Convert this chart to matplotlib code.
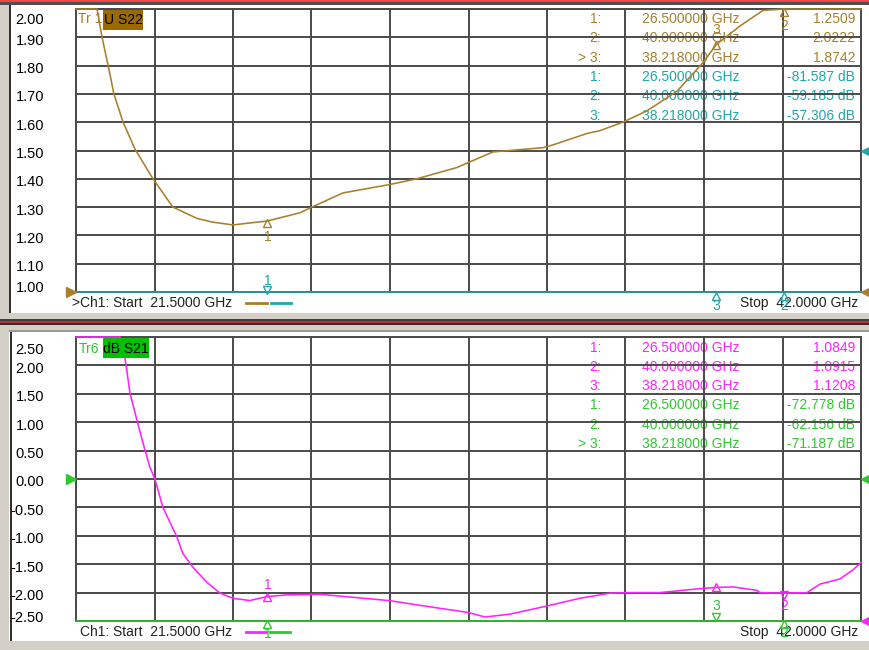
import numpy as np
import matplotlib
matplotlib.use('Agg')
import matplotlib.pyplot as plt
from matplotlib.patches import Rectangle
from matplotlib.lines import Line2D
from matplotlib.transforms import ScaledTranslation, blended_transform_factory

plt.rcParams['font.family'] = ['Liberation Sans', 'DejaVu Sans']

# ---------------- data ----------------
f_start, f_stop = 21.5, 42.0
top_ticks = [2.00, 1.90, 1.80, 1.70, 1.60, 1.50, 1.40, 1.30, 1.20, 1.10, 1.00]
bot_ticks = [2.50, 2.00, 1.50, 1.00, 0.50, 0.00, -0.50, -1.00, -1.50, -2.00, -2.50]

s22_freq = [21.50, 22.05, 22.18, 22.34, 22.49, 22.73, 23.04, 23.51, 24.03, 24.66,
            25.06, 25.60, 26.05, 26.50, 27.35, 27.66, 28.47, 29.70, 30.40, 31.45,
            31.79, 32.39, 33.70, 33.96, 34.84, 35.18, 35.78, 36.41, 37.20, 37.87,
            38.22, 38.84, 39.44, 40.00, 42.00]
s22_val = [2.15, 2.00, 1.90, 1.80, 1.70, 1.60, 1.505, 1.40, 1.30, 1.26,
           1.247, 1.237, 1.244, 1.251, 1.28, 1.30, 1.35, 1.38, 1.40, 1.44,
           1.46, 1.495, 1.51, 1.52, 1.56, 1.57, 1.60, 1.64, 1.71, 1.81,
           1.874, 1.94, 1.995, 2.022, 2.10]

s22db_freq = [21.5, 26.5, 38.218, 40.0, 42.0]
s22db_val = [-80.0, -81.587, -57.306, -59.185, -60.0]

s21_freq = [21.50, 22.65, 22.78, 22.91, 23.09, 23.25, 23.43, 23.56, 23.77, 24.14,
            24.29, 24.56, 24.92, 25.26, 25.60, 26.04, 26.49, 27.01, 27.87, 29.67,
            30.74, 31.74, 32.18, 32.83, 33.77, 34.66, 35.45, 35.84, 36.75, 37.80,
            38.19, 38.66, 39.28, 39.36, 39.96, 40.59, 40.93, 41.45, 41.79, 42.00]
s21_val = [2.80, 2.50, 2.13, 1.51, 1.04, 0.63, 0.21, 0.00, -0.50, -1.03,
           -1.31, -1.56, -1.82, -2.01, -2.10, -2.14, -2.07, -2.04, -2.03, -2.14,
           -2.25, -2.35, -2.43, -2.38, -2.24, -2.10, -2.01, -2.00, -2.00, -1.93,
           -1.91, -1.90, -1.96, -2.00, -2.01, -2.00, -1.85, -1.76, -1.60, -1.47]

s21db_freq = [21.5, 26.5, 38.218, 40.0, 42.0]
s21db_val = [-70.0, -72.778, -71.187, -62.156, -65.0]

marker_freq = [26.5, 40.0, 38.218]
marker_names = ['1:', '2:', '> 3:']
marker_names_plain = ['1:', '2:', '3:']
s22_marker_val = [1.2509, 2.0222, 1.8742]
s22db_marker_val = [-81.587, -59.185, -57.306]
s21_marker_val = [1.0849, 1.0915, 1.1208]
s21db_marker_val = [-72.778, -62.156, -71.187]

# ---------------- style ----------------
W, H = 869, 650
BROWN = '#A8802C'
BROWN_BOX = '#9A6A00'
TEAL = '#1FA7A7'
MAG = '#FF22FF'
GREEN = '#2FC82F'
GREEN_BOX = '#00C000'
GRID = '#4a4a4a'
TXT = '#222222'
FS = 10

fig = plt.figure(figsize=(W / 100, H / 100), dpi=100)
fig.patch.set_facecolor('#d4d0c8')


def fx(x):
    return x / W


def fy(y):
    return 1 - y / H


def frect(x0, y0, x1, y1, color, z=-5):
    fig.add_artist(Rectangle((fx(x0), fy(y1)), fx(x1) - fx(x0), fy(y0) - fy(y1),
                             transform=fig.transFigure, facecolor=color,
                             edgecolor='none', zorder=z))


# window decorations
frect(0, 0, W, 2.2, '#f04848')
frect(0, 2.2, W, 4.5, '#505050')
frect(9, 5, W, 312.5, 'white')
frect(9, 5, 11, 312.5, '#303030')
frect(0, 319.5, W, 320.8, '#404040')
frect(0, 320.8, W, 323.2, '#c03030')
frect(0, 323.2, W, 325, '#303030')
frect(9, 330, W, 331.5, '#9a9a9a')
frect(9, 331.5, W, 641, 'white')
frect(10, 331.5, 12, 641, '#303030')

ax1 = fig.add_axes([fx(76), fy(292), fx(861) - fx(76), fy(9) - fy(292)])
ax2 = fig.add_axes([fx(76), fy(621), fx(861) - fx(76), fy(337) - fy(621)])


def setup(ax, ticks, top_shift):
    ax.set_facecolor('none')
    ax.set_xlim(f_start, f_stop)
    ax.set_ylim(min(ticks), max(ticks))
    ax.set_xticks(np.linspace(f_start, f_stop, 11))
    ax.set_xticklabels([])
    ax.set_yticks(ticks)
    ax.set_yticklabels(['%.2f' % t for t in ticks])
    ax.tick_params(axis='both', length=0)
    ax.tick_params(axis='y', pad=23, labelsize=10.5, labelcolor='black')
    ax.grid(True, color=GRID, lw=1.4)
    ax.set_axisbelow(False)
    for s in ax.spines.values():
        s.set_color(GRID)
        s.set_linewidth(1.4)
        s.set_zorder(2.5)
    for t, lab in zip(ticks, ax.get_yticklabels()):
        if t == max(ticks):
            dy = -top_shift
        elif t == min(ticks):
            dy = 5
        else:
            dy = -2
        lab.set_transform(lab.get_transform() + ScaledTranslation(0, dy / 100, fig.dpi_scale_trans))


setup(ax1, top_ticks, 10)
setup(ax2, bot_ticks, 11.5)


def trace(ax, f, v, color):
    lo, hi = ax.get_ylim()
    ax.plot(f, np.clip(v, lo, hi), color=color, lw=1.15, zorder=3, clip_on=False,
            solid_joinstyle='miter')


trace(ax1, s22db_freq, s22db_val, TEAL)
trace(ax1, s22_freq, s22_val, BROWN)
trace(ax2, s21db_freq, s21db_val, GREEN)
trace(ax2, s21_freq, s21_val, MAG)


def off(ax, dx_px, dy_px):
    return ax.transData + ScaledTranslation(dx_px / 100, dy_px / 100, fig.dpi_scale_trans)


def marker(ax, f, v, sym, color, label, tri_dy, lab_dy):
    lo, hi = ax.get_ylim()
    v = float(np.clip(v, lo, hi))
    ax.plot([f], [v], marker=sym, ms=6, mfc='none', mec=color, mew=1.0, ls='none',
            zorder=4, clip_on=False, transform=off(ax, 0, tri_dy))
    ax.text(f, v, label, color=color, fontsize=FS, ha='center', va='center',
            zorder=4, clip_on=False, transform=off(ax, 0, lab_dy))


# top panel markers
marker(ax1, marker_freq[0], s22_marker_val[0], '^', BROWN, '1', -2.5, -16)
marker(ax1, marker_freq[1], s22_marker_val[1], '^', BROWN, '2', -3, -17)
marker(ax1, marker_freq[2], s22_marker_val[2], '^', BROWN, '3', 0, 15)
marker(ax1, marker_freq[0], s22db_marker_val[0], 'v', TEAL, '1', 2.5, 11)
marker(ax1, marker_freq[1], s22db_marker_val[1], '^', TEAL, '2', -4, -14)
marker(ax1, marker_freq[2], s22db_marker_val[2], '^', TEAL, '3', -4, -14)

# bottom panel markers (on the trace)
mag_at = np.interp(marker_freq, s21_freq, s21_val)
marker(ax2, marker_freq[0], mag_at[0], '^', MAG, '1', 0, 12)
marker(ax2, marker_freq[1], mag_at[1], 'v', MAG, '2', -2, -13)
marker(ax2, marker_freq[2], mag_at[2], '^', MAG, '', 0, 0)
marker(ax2, marker_freq[0], s21db_marker_val[0], '^', GREEN, '1', -3, -13)
marker(ax2, marker_freq[1], s21db_marker_val[1], '^', GREEN, '2', -3, -12)
marker(ax2, marker_freq[2], s21db_marker_val[2], 'v', GREEN, '3', 4, 15)


def reftri(ax, side, y, color):
    tr = blended_transform_factory(ax.transAxes, ax.transData)
    if side == 'left':
        x, sym = -5.5 / 785, '>'
    else:
        x, sym = 1 + 5 / 785, '<'
    ax.plot([x], [y], marker=sym, ms=7, color=color, mec=color, ls='none',
            transform=tr, clip_on=False, zorder=5)


reftri(ax1, 'left', top_ticks[-1], BROWN)
reftri(ax1, 'right', top_ticks[-1], BROWN)
reftri(ax1, 'right', top_ticks[5], TEAL)
reftri(ax2, 'left', bot_ticks[5], GREEN)
reftri(ax2, 'right', bot_ticks[5], GREEN)
reftri(ax2, 'right', bot_ticks[-1], MAG)


def ftext(ax, x, y, s, color, ha='left', z=1, **kw):
    ax.text(fx(x), fy(y), s, color=color, fontsize=FS, ha=ha, va='center',
            transform=fig.transFigure, zorder=z, clip_on=False, **kw)


# marker tables
def table(ax, y0, dy, rows):
    for i, (name, fr, val, col) in enumerate(rows):
        y = y0 + dy * i
        ftext(ax, 601, y, name, col, ha='right')
        ftext(ax, 642, y, '%.6f GHz' % fr, col)
        ftext(ax, 855, y, val, col, ha='right')


rows_top = []
for i in range(3):
    rows_top.append((marker_names[i] if i == 2 else marker_names_plain[i],
                     marker_freq[i], '%.4f' % s22_marker_val[i], BROWN))
for i in range(3):
    rows_top.append((marker_names_plain[i], marker_freq[i],
                     '%.3f dB' % s22db_marker_val[i], TEAL))
table(ax1, 19, 19.3, rows_top)

rows_bot = []
for i in range(3):
    rows_bot.append((marker_names_plain[i], marker_freq[i], '%.4f' % s21_marker_val[i], MAG))
for i in range(3):
    rows_bot.append((marker_names[i] if i == 2 else marker_names_plain[i], marker_freq[i],
                     '%.3f dB' % s21db_marker_val[i], GREEN))
table(ax2, 347.5, 19.3, rows_bot)

# trace titles
ftext(ax1, 78, 19, 'Tr 1', BROWN, z=5)
ax1.add_patch(Rectangle((fx(103), fy(29.5)), fx(143) - fx(103), fy(9.5) - fy(29.5),
                        transform=fig.transFigure, facecolor=BROWN_BOX, edgecolor='none',
                        zorder=5, clip_on=False))
ftext(ax1, 123, 19.5, 'U S22', 'black', ha='center', z=6)

ftext(ax2, 79, 349, 'Tr6', GREEN, z=5)
ax2.add_patch(Rectangle((fx(103), fy(358)), fx(149) - fx(103), fy(338) - fy(358),
                        transform=fig.transFigure, facecolor=GREEN_BOX, edgecolor='none',
                        zorder=5, clip_on=False))
ftext(ax2, 126, 348.5, 'dB S21', 'black', ha='center', z=6)

# channel info strips
ftext(ax1, 72, 303, '>Ch1: Start  %.4f GHz' % f_start, TXT)
ftext(ax1, 858, 303, 'Stop  %.4f GHz' % f_stop, TXT, ha='right')
ftext(ax2, 80, 632, 'Ch1: Start  %.4f GHz' % f_start, TXT)
ftext(ax2, 858, 632, 'Stop  %.4f GHz' % f_stop, TXT, ha='right')

for (x0, x1, y, c) in [(246, 267, 303, BROWN), (271, 291, 303, TEAL),
                       (246, 266, 632, MAG), (270, 290, 632, GREEN)]:
    fig.add_artist(Line2D([fx(x0), fx(x1)], [fy(y), fy(y)], color=c, lw=2.0,
                          transform=fig.transFigure, zorder=6))

fig.savefig('out.png', dpi=100, facecolor=fig.get_facecolor())
